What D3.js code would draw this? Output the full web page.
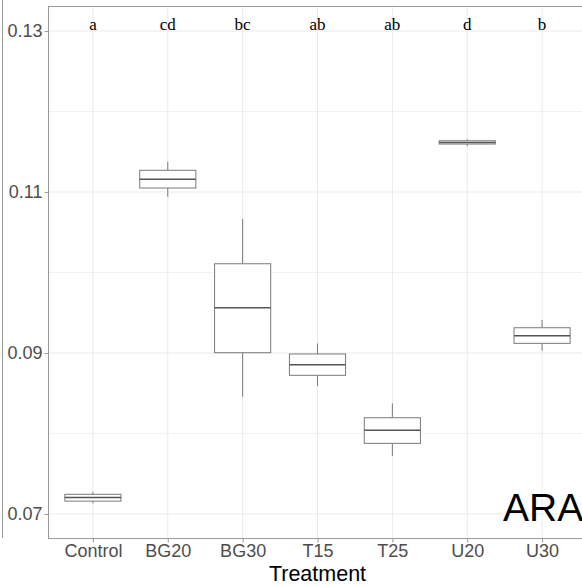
<!DOCTYPE html>
<html>
<head>
<meta charset="utf-8">
<script src="https://cdn.jsdelivr.net/npm/d3@7"></script>
<style>
html,body{margin:0;padding:0;background:#fff;overflow:hidden;}
svg{display:block;}
</style>
</head>
<body>
<svg id="chart" width="582" height="587"></svg>
<script>
const categories = ["Control","BG20","BG30","T15","T25","U20","U30"];
const whiskerMin = [0.07133,0.10942,0.08455,0.0859,0.0772,0.11571,0.09029];
const q1Values   = [0.0716,0.1105,0.09004,0.08723,0.07878,0.11596,0.0912];
const medians    = [0.07205,0.11158,0.09563,0.08855,0.0804,0.11616,0.09215];
const q3Values   = [0.07245,0.1127,0.10109,0.08988,0.08196,0.11637,0.09314];
const whiskerMax = [0.07277,0.11376,0.10665,0.0912,0.08375,0.11658,0.0941];
const groupLetters = ["a","cd","bc","ab","ab","d","b"];
const yMajorTicks = [0.07,0.09,0.11,0.13];
const yMinorTicks = [0.08,0.10,0.12];
const panelLabel = "ARA";
const xTitle = "Treatment";

(function(){
const svg = d3.select("#chart");
const pL = 48, pR = 587, pT = 6, pB = 538;
const x = d3.scalePoint().domain(categories).range([pL, pR]).padding(0.6);
const y = d3.scaleLinear().domain([0.06702, 0.13311]).range([pB, pT]);
const halfW = x.step() * 0.375;

// stray left border line
svg.append("line").attr("x1",2.5).attr("x2",2.5).attr("y1",0).attr("y2",pB)
  .attr("stroke","#9a9a9a").attr("stroke-width",1);

const grid = svg.append("g");
grid.selectAll("line.minor").data(yMinorTicks).join("line").attr("class","minor")
  .attr("x1",pL).attr("x2",pR).attr("y1",d=>y(d)).attr("y2",d=>y(d))
  .attr("stroke","#f2f2f2").attr("stroke-width",1);
grid.selectAll("line.major").data(yMajorTicks).join("line").attr("class","major")
  .attr("x1",pL).attr("x2",pR).attr("y1",d=>y(d)).attr("y2",d=>y(d))
  .attr("stroke","#ebebeb").attr("stroke-width",1);
grid.selectAll("line.vx").data(categories).join("line").attr("class","vx")
  .attr("x1",d=>x(d)).attr("x2",d=>x(d)).attr("y1",pT).attr("y2",pB)
  .attr("stroke","#ebebeb").attr("stroke-width",1);

const data = categories.map((c,i)=>({c, lo:whiskerMin[i], q1:q1Values[i], med:medians[i], q3:q3Values[i], hi:whiskerMax[i], letter:groupLetters[i]}));

const boxes = svg.append("g").selectAll("g").data(data).join("g");
boxes.append("line").attr("x1",d=>x(d.c)).attr("x2",d=>x(d.c))
  .attr("y1",d=>y(d.hi)).attr("y2",d=>y(d.q3)).attr("stroke","#7a7a7a").attr("stroke-width",1);
boxes.append("line").attr("x1",d=>x(d.c)).attr("x2",d=>x(d.c))
  .attr("y1",d=>y(d.q1)).attr("y2",d=>y(d.lo)).attr("stroke","#7a7a7a").attr("stroke-width",1);
boxes.append("rect").attr("x",d=>x(d.c)-halfW).attr("width",halfW*2)
  .attr("y",d=>y(d.q3)).attr("height",d=>y(d.q1)-y(d.q3))
  .attr("fill","#fff").attr("stroke","#7a7a7a").attr("stroke-width",1);
boxes.append("line").attr("x1",d=>x(d.c)-halfW).attr("x2",d=>x(d.c)+halfW)
  .attr("y1",d=>y(d.med)).attr("y2",d=>y(d.med)).attr("stroke","#555").attr("stroke-width",1.6);

// letters
svg.append("g").selectAll("text").data(data).join("text")
  .attr("x",d=>x(d.c)).attr("y",y(0.13)-1).attr("text-anchor","middle")
  .attr("font-family","'Liberation Serif', 'DejaVu Serif', serif").attr("font-size",17)
  .attr("fill","#000").text(d=>d.letter);

// panel border
svg.append("rect").attr("x",pL+0.5).attr("y",pT+0.5).attr("width",pR-pL).attr("height",pB-pT)
  .attr("fill","none").attr("stroke","#9a9a9a").attr("stroke-width",1);

// y axis
const yAxis = d3.axisLeft(y).tickValues(yMajorTicks).tickFormat(d3.format(".2f")).tickSize(4).tickPadding(2);
const ya = svg.append("g").attr("transform",`translate(${pL+0.5},0)`).call(yAxis);
ya.select(".domain").remove();
ya.selectAll(".tick line").attr("stroke","#9a9a9a");
ya.selectAll(".tick text").attr("fill","#4d4d4d").attr("font-size",18)
  .attr("font-family","'Liberation Sans', Arial, sans-serif");

// x axis
const xAxis = d3.axisBottom(x).tickSize(4).tickPadding(2);
const xa = svg.append("g").attr("transform",`translate(0,${pB+0.5})`).call(xAxis);
xa.select(".domain").remove();
xa.selectAll(".tick line").attr("stroke","#9a9a9a");
xa.selectAll(".tick text").attr("fill","#4d4d4d").attr("font-size",18)
  .attr("font-family","'Liberation Sans', Arial, sans-serif");

svg.append("text").attr("x",(pL+pR)/2).attr("y",581).attr("text-anchor","middle")
  .attr("font-family","'Liberation Sans', Arial, sans-serif").attr("font-size",21.5).attr("fill","#000")
  .text(xTitle);

svg.append("text").attr("x",503).attr("y",521).attr("text-anchor","start")
  .attr("font-family","'Liberation Sans', Arial, sans-serif").attr("font-size",39).attr("fill","#000")
  .text(panelLabel);
})();
</script>
</body>
</html>
